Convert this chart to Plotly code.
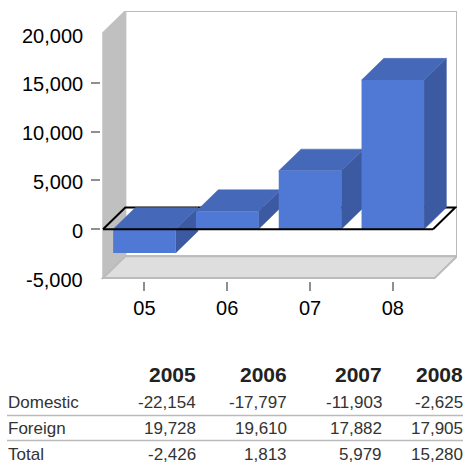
import plotly.graph_objects as go

# ---- data ----
CATEGORIES = ["05", "06", "07", "08"]
TOTAL = [-2426, 1813, 5979, 15280]
Y_TICKS = [-5000, 0, 5000, 10000, 15000, 20000]
Y_TICK_LABELS = ["-5,000", "0", "5,000", "10,000", "15,000", "20,000"]
Y_MARKED_TICKS = [0, 5000, 10000, 15000]
YEARS = ["2005", "2006", "2007", "2008"]
DOMESTIC = ["-22,154", "-17,797", "-11,903", "-2,625"]
FOREIGN = ["19,728", "19,610", "17,882", "17,905"]
TOTAL_TXT = ["-2,426", "1,813", "5,979", "15,280"]
ROW_NAMES = ["Domestic", "Foreign", "Total"]

# ---- layout constants ----
W, H = 464, 463
FRONT_L, R, T, FRONT_B = 103, 457, 11, 278   # chart box in pixels
L, B = 101, 281                              # axis lines sit slightly off the box so ticks float
PW, PH = R - L, B - T
PX_PER_CAT = 82.8
PX_PER_VAL = 244 / 25000
X_MIN, X_MAX = -0.5, -0.5 + (R - FRONT_L) / PX_PER_CAT
Y_MIN, Y_MAX = -5000, -5000 + (FRONT_B - T) / PX_PER_VAL
AX_X_MIN = X_MIN - (FRONT_L - L) / PX_PER_CAT
AX_Y_MIN = Y_MIN - (B - FRONT_B) / PX_PER_VAL
DX = 22.3 / PX_PER_CAT
DY = 21.7 / PX_PER_VAL
BAR_W = 0.755
FRONT, TOPC, SIDE = "#5079D5", "#4668B9", "#3C5AA2"
FONT = "Liberation Sans, Arial, sans-serif"


def xpaper(x):
    return (x - L) / PW


def ypaper(y):
    return (B - y) / PH


def path(points):
    return "M " + " L ".join(f"{x},{y}" for x, y in points) + " Z"


fig = go.Figure()

# side and top faces (below the front faces)
for i, v in enumerate(TOTAL):
    x0, x1 = i - BAR_W / 2, i + BAR_W / 2
    hi, lo = max(v, 0), min(v, 0)
    fig.add_trace(go.Scatter(
        x=[x1, x1 + DX, x1 + DX, x1, x1], y=[lo, lo + DY, hi + DY, hi, lo],
        mode="lines", fill="toself", fillcolor=SIDE, line=dict(color=SIDE, width=0.5),
        hoverinfo="skip", showlegend=False, zorder=0))
    fig.add_trace(go.Scatter(
        x=[x0, x0 + DX, x1 + DX, x1, x0], y=[hi, hi + DY, hi + DY, hi, hi],
        mode="lines", fill="toself", fillcolor=TOPC, line=dict(color=TOPC, width=0.5),
        hoverinfo="skip", showlegend=False, zorder=0))

# front faces
fig.add_trace(go.Bar(x=list(range(len(TOTAL))), y=TOTAL, width=BAR_W,
                     marker=dict(color=FRONT, line=dict(width=0)),
                     hoverinfo="skip", showlegend=False, zorder=1))

shapes = []
WALL_EDGE = "#BBBBBB"
shapes.append(dict(type="path", layer="below", xref="x", yref="y", fillcolor="#FFFFFF",
                   line=dict(color=WALL_EDGE, width=2),
                   path=path([(X_MIN + DX, Y_MIN + DY), (X_MAX, Y_MIN + DY), (X_MAX, Y_MAX),
                              (X_MIN + DX, Y_MAX)])))
shapes.append(dict(type="path", layer="below", xref="x", yref="y", fillcolor="#C0C0C0",
                   line=dict(color="#C0C0C0", width=1.5),
                   path=path([(X_MIN, Y_MIN), (X_MIN + DX, Y_MIN + DY), (X_MIN + DX, Y_MAX),
                              (X_MIN, Y_MAX - DY)])))
shapes.append(dict(type="path", layer="below", xref="x", yref="y", fillcolor="#DEDEDE",
                   line=dict(color=WALL_EDGE, width=2),
                   path=path([(X_MIN, Y_MIN), (X_MAX - DX, Y_MIN), (X_MAX, Y_MIN + DY),
                              (X_MIN + DX, Y_MIN + DY)])))
# zero plane: back edges below the bars, front edge above
PLANE_R = X_MAX - 0.02
shapes.append(dict(type="path", layer="below", xref="x", yref="y", line=dict(color="#000000", width=2),
                   path=f"M {X_MIN},0 L {X_MIN + DX},{DY} L {PLANE_R},{DY} L {PLANE_R - DX},0"))
shapes.append(dict(type="line", layer="above", xref="x", yref="y", x0=X_MIN, x1=PLANE_R - DX, y0=0, y1=0,
                   line=dict(color="#000000", width=2)))
# table rules
for y in (415.5, 440.5):
    shapes.append(dict(type="line", xref="paper", yref="paper", x0=xpaper(7), x1=xpaper(463), y0=ypaper(y),
                       y1=ypaper(y), line=dict(color="#BBBBBB", width=1.5)))

# table text
COL_RIGHT = [196.5, 287.5, 382.5, 463.5]
ROW_Y = [402.5, 428.5, 454.5]
anns = []
for xr, t in zip(COL_RIGHT, YEARS):
    anns.append(dict(x=xpaper(xr), y=ypaper(374), text=f"<b>{t}</b>", font=dict(size=21, color="#222222", family=FONT)))
for y, name, row in zip(ROW_Y, ROW_NAMES, [DOMESTIC, FOREIGN, TOTAL_TXT]):
    anns.append(dict(x=xpaper(7), y=ypaper(y), text=name, xanchor="left",
                     font=dict(size=17, color="#333333", family=FONT)))
    for xr, t in zip(COL_RIGHT, row):
        anns.append(dict(x=xpaper(xr), y=ypaper(y), text=t, font=dict(size=17, color="#333333", family=FONT)))
for a in anns:
    a.update(xref="paper", yref="paper", showarrow=False, yanchor="middle", borderpad=0)
    a.setdefault("xanchor", "right")
# y axis labels
for v, t in zip(Y_TICKS, Y_TICK_LABELS):
    anns.append(dict(x=xpaper(84), y=v, xref="paper", yref="y", text=t, showarrow=False, xanchor="right",
                     yanchor="middle", yshift=-1.5, borderpad=0,
                     font=dict(size=20, color="#000000", family=FONT)))

TICK = "#8F8F8F"
fig.update_layout(
    width=W, height=H, margin=dict(l=L, r=W - R, t=T, b=H - B, pad=0),
    paper_bgcolor="white", plot_bgcolor="rgba(0,0,0,0)", showlegend=False,
    shapes=shapes, annotations=anns, hovermode=False,
    font=dict(family=FONT, size=20, color="#000000"),
    xaxis=dict(range=[AX_X_MIN, X_MAX], tickvals=list(range(len(CATEGORIES))), ticktext=CATEGORIES,
               showgrid=False, zeroline=False, showline=False,
               ticks="outside", ticklen=9, tickwidth=2, tickcolor=TICK, ticklabelstandoff=0,
               tickfont=dict(size=20, color="#000000", family=FONT), fixedrange=True),
    yaxis=dict(range=[AX_Y_MIN, Y_MAX], tickvals=Y_MARKED_TICKS, showticklabels=False,
               showgrid=False, zeroline=False, showline=False,
               ticks="outside", ticklen=9, tickwidth=2, tickcolor=TICK, fixedrange=True),
)

fig.write_html("out.html", config=dict(displayModeBar=False), post_script="document.body.style.margin='0';")
